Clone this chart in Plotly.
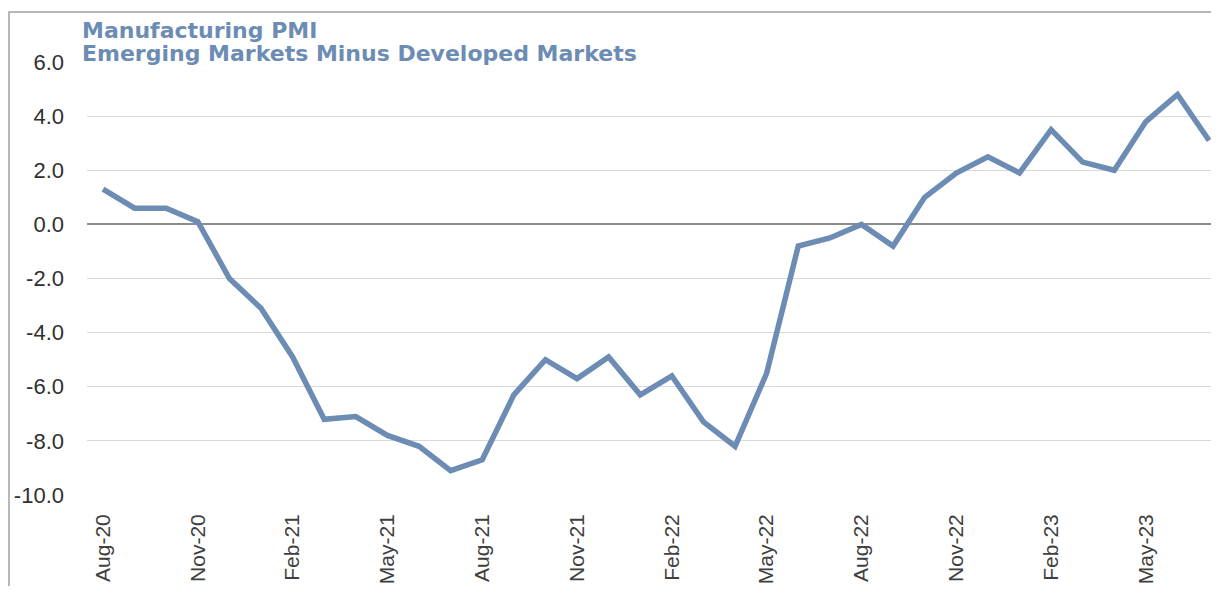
import plotly.graph_objects as go

months = ["Aug-20","Sep-20","Oct-20","Nov-20","Dec-20","Jan-21","Feb-21","Mar-21","Apr-21","May-21",
          "Jun-21","Jul-21","Aug-21","Sep-21","Oct-21","Nov-21","Dec-21","Jan-22","Feb-22","Mar-22",
          "Apr-22","May-22","Jun-22","Jul-22","Aug-22","Sep-22","Oct-22","Nov-22","Dec-22","Jan-23",
          "Feb-23","Mar-23","Apr-23","May-23","Jun-23","Jul-23"]
values = [1.3, 0.6, 0.6, 0.1, -2.0, -3.1, -4.9, -7.2, -7.1, -7.8,
          -8.2, -9.1, -8.7, -6.3, -5.0, -5.7, -4.9, -6.3, -5.6, -7.3,
          -8.2, -5.5, -0.8, -0.5, 0.0, -0.8, 1.0, 1.9, 2.5, 1.9,
          3.5, 2.3, 2.0, 3.8, 4.8, 3.1]
x_ticks = months[::3]
y_ticks = [6, 4, 2, 0, -2, -4, -6, -8, -10]
y_ticktext = [f"{v:.1f}" for v in y_ticks]

title_lines = ["Manufacturing PMI", "Emerging Markets Minus Developed Markets"]

label_font = "Liberation Sans, Arial, sans-serif"
title_font = "DejaVu Sans, Verdana, sans-serif"
line_color = "#6c8cb4"

fig = go.Figure()
fig.add_trace(go.Scatter(x=months, y=values, mode="lines",
                         line=dict(color=line_color, width=5.5), showlegend=False))

fig.update_layout(
    width=1203, height=578,
    margin=dict(l=79, r=0, t=54, b=91),
    paper_bgcolor="white", plot_bgcolor="white",
    xaxis=dict(type="category", categoryorder="array", categoryarray=months,
               range=[-0.506, 35.06], tickmode="array", tickvals=x_ticks, ticktext=x_ticks,
               tickangle=-90, tickfont=dict(family=label_font, size=21, color="#404040"),
               showgrid=False, showline=False, ticks="", ticklabelstandoff=14),
    yaxis=dict(range=[-10, 6], tickmode="array", tickvals=y_ticks, ticktext=y_ticktext,
               tickfont=dict(family=label_font, size=22, color="#303030"),
               showgrid=True, gridcolor="#d9d9d9", gridwidth=1,
               zeroline=True, zerolinecolor="#8c8c8c", zerolinewidth=1.5,
               showline=False, ticks="", ticklabelstandoff=22),
    shapes=[dict(type="rect", xref="paper", yref="paper",
                 x0=-0.0694, x1=1.05, y0=-0.3, y1=1.1155,
                 line=dict(color="#a0a0a0", width=1.5), fillcolor="rgba(0,0,0,0)", layer="below")],
    annotations=[
        dict(xref="paper", yref="paper", x=-0.006, y=yy,
             xanchor="left", yanchor="middle", align="left", showarrow=False,
             text=t, font=dict(family=title_font, size=22, color=line_color, weight="bold"))
        for t, yy in zip(title_lines, [1.0739, 1.0185])
    ],
)

fig.write_html("out.html")
